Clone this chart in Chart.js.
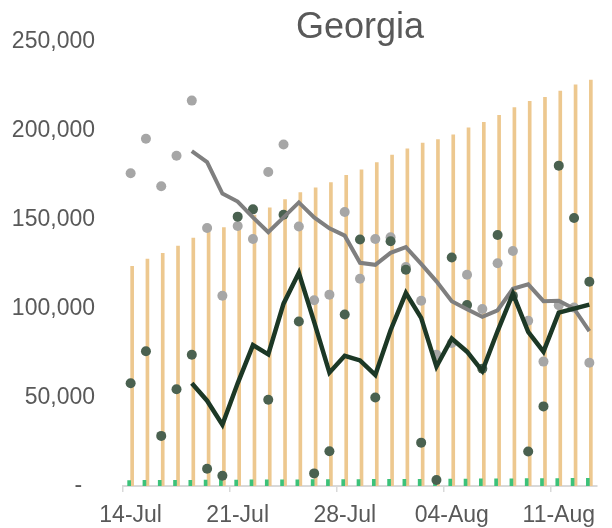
<!DOCTYPE html>
<html>
<head>
<meta charset="utf-8">
<script src="https://cdn.jsdelivr.net/npm/chart.js@4"></script>
<style>
  body { margin: 0; background: #fff; }
</style>
</head>
<body>
<canvas id="myChart" width="612" height="528"></canvas>
<script>
// 14-Jul .. 13-Aug
const labels = ['14-Jul','15-Jul','16-Jul','17-Jul','18-Jul','19-Jul','20-Jul','21-Jul','22-Jul','23-Jul',
  '24-Jul','25-Jul','26-Jul','27-Jul','28-Jul','29-Jul','30-Jul','31-Jul','01-Aug','02-Aug',
  '03-Aug','04-Aug','05-Aug','06-Aug','07-Aug','08-Aug','09-Aug','10-Aug','11-Aug','12-Aug','13-Aug'];

const cumulative = [123700,127700,131000,135000,139600,143000,145400,148400,152500,156600,
  161200,165200,167800,170800,174900,177900,182000,186300,189800,193000,
  195000,197600,201600,204700,208600,213000,216500,218700,222300,225800,228400];

const deaths = [3100,3130,3170,3210,3250,3290,3320,3350,3410,3460,
  3500,3540,3570,3590,3610,3680,3720,3760,3790,3810,
  3840,3860,3920,3980,4030,4090,4130,4170,4200,4250,4350];

const grayDots = [176000,195400,168700,185900,216900,145200,107100,146300,139000,176700,
  192200,146000,104500,107700,154200,116600,139000,140000,123200,104300,
  73800,80500,118900,99600,125400,132300,93000,70000,101700,100400,69400];

const grayAvg = [null,null,null,null,188500,182300,164600,160100,151200,142800,
  151200,159600,151200,145000,140900,125600,124500,131200,134400,125000,
  115200,104000,99500,95200,98900,111000,113500,104000,104300,99800,87200];

const darkDots = [57800,75800,28200,54500,73900,9700,5800,151600,155700,48500,
  152700,92600,7100,19600,96500,138700,49800,137700,121700,24400,
  3400,128600,101800,66000,141300,107000,19400,44800,180300,150800,115000];

const darkAvg = [null,null,null,null,57800,48000,34500,57800,79300,74100,
  102600,120000,92400,63800,73300,70700,62500,87700,108600,94600,
  67200,83000,75600,64700,87200,108200,86800,75600,97600,99800,102100];

const yTicks = [0, 50000, 100000, 150000, 200000, 250000];

const titlePlugin = {
  id: 'titleText',
  afterDraw(chart) {
    const ctx = chart.ctx;
    const area = chart.chartArea;
    ctx.save();
    ctx.font = '36px "Liberation Sans", Arial, sans-serif';
    ctx.fillStyle = '#595959';
    ctx.textAlign = 'center';
    ctx.textBaseline = 'middle';
    ctx.fillText('Georgia', (area.left + area.right) / 2, 28);
    ctx.restore();
  }
};

const data = {
  labels: labels,
  datasets: [
    {
      type: 'line',
      data: darkAvg,
      borderColor: '#1C3826',
      borderWidth: 4.5,
      pointRadius: 0,
      tension: 0,
      order: 0
    },
    {
      type: 'line',
      data: grayAvg,
      borderColor: '#7F7F7F',
      borderWidth: 4,
      pointRadius: 0,
      tension: 0,
      order: 0
    },
    {
      type: 'line',
      data: darkDots,
      showLine: false,
      pointRadius: 5,
      pointBorderWidth: 0,
      pointBackgroundColor: '#4A6150',
      order: 1
    },
    {
      type: 'line',
      data: grayDots,
      showLine: false,
      pointRadius: 5,
      pointBorderWidth: 0,
      pointBackgroundColor: '#A6A6A6',
      order: 1
    },
    {
      type: 'bar',
      data: deaths,
      backgroundColor: '#3CC27A',
      barThickness: 3,
      order: 2
    },
    {
      type: 'bar',
      data: cumulative,
      backgroundColor: '#EDC88F',
      barThickness: 3,
      order: 2
    }
  ]
};

const config = {
  type: 'bar',
  data: data,
  plugins: [titlePlugin],
  options: {
    responsive: false,
    animation: false,
    layout: {
      padding: { left: 9, top: 39, right: 15, bottom: 0 }
    },
    plugins: {
      legend: { display: false },
      tooltip: { enabled: false }
    },
    scales: {
      x: {
        offset: true,
        afterFit: (scale) => { scale.height = 42; },
        grid: {
          offset: true,
          drawOnChartArea: false,
          drawTicks: true,
          tickLength: 6,
          lineWidth: 1.5,
          color: (ctx) => (ctx.index % 7 === 0 ? '#D9D9D9' : 'transparent')
        },
        border: { display: true, color: '#D9D9D9', width: 2 },
        ticks: {
          autoSkip: false,
          maxRotation: 0,
          padding: 10,
          color: '#595959',
          font: { family: '"Liberation Sans", Arial, sans-serif', size: 23 },
          callback: (v, i) => (i % 7 === 0 ? labels[i] : '')
        }
      },
      y: {
        min: 0,
        max: 250000,
        afterFit: (scale) => { scale.width = 114; },
        afterBuildTicks: (scale) => { scale.ticks = yTicks.map(v => ({ value: v })); },
        grid: { display: false, drawTicks: false },
        border: { display: false },
        ticks: {
          padding: 28,
          color: '#595959',
          font: { family: '"Liberation Sans", Arial, sans-serif', size: 23 },
          callback: (v) => (v === 0 ? '-  ' : v.toLocaleString('en-US'))
        }
      }
    }
  }
};

const myChart = new Chart(document.getElementById('myChart'), config);
</script>
</body>
</html>
